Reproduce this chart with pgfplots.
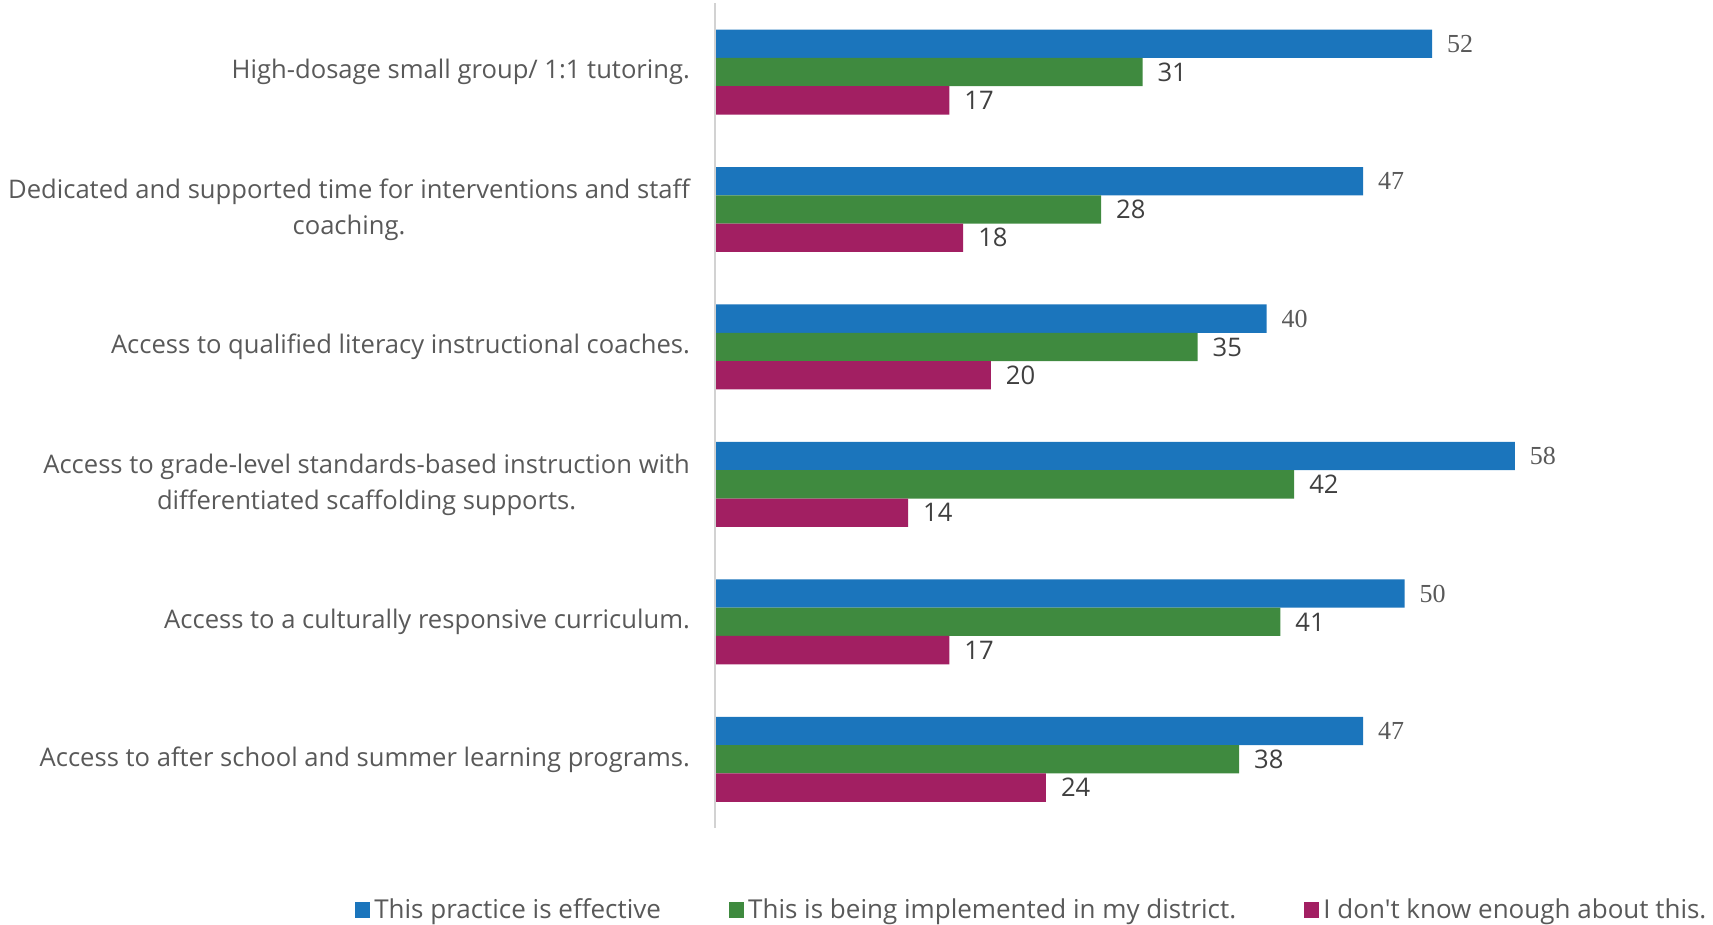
\documentclass[border=0pt]{standalone}
\usepackage{fontspec}
\setmainfont{Open Sans}[Ligatures=TeXOff]
\newfontfamily\numserif{Liberation Serif}
\usepackage{pgfplots}
\pgfplotsset{compat=1.18}

\definecolor{effblue}{HTML}{1B75BC}
\definecolor{implgreen}{HTML}{3F8A3F}
\definecolor{dkmag}{HTML}{A21F62}
\definecolor{labgray}{HTML}{595959}
\definecolor{valgray}{HTML}{404040}

\begin{document}
\begin{tikzpicture}
\path[use as bounding box] (-357.5pt,-48.5pt) rectangle (499pt,414pt);
\begin{axis}[
    xbar,
    scale only axis,
    width=441.3pt, height=412.35pt,
    xmin=0, xmax=64,
    ymin=-0.5, ymax=5.5,
    y dir=reverse,
    bar width=0.206,
    axis line style={draw=none},
    xtick=\empty,
    ytick={0,1,2,3,4,5},
    yticklabels={
        {High-dosage small group/ 1:1 tutoring.},
        {Dedicated and supported time for interventions and staff\\coaching.},
        {Access to qualified literacy instructional coaches.},
        {Access to grade-level standards-based instruction with\\differentiated scaffolding supports.},
        {Access to a culturally responsive curriculum.},
        {Access to after school and summer learning programs.}},
    major tick length=0pt,
    yticklabel style={align=center, text=labgray, font=\fontsize{12.8}{18}\selectfont, xshift=-9pt},
    /pgf/number format/assume math mode=true,
    nodes near coords,
    every node near coord/.append style={font=\fontsize{12.8}{15}\selectfont, text=valgray, xshift=4pt},
    legend columns=3,
    legend style={draw=none, at={(0.36,0)}, anchor=center, yshift=-41pt,
        font=\fontsize{13}{15}\selectfont, text=labgray,
        /tikz/every even column/.append style={column sep=32pt}},
    legend image code/.code={\fill[#1] (0pt,-3.8pt) rectangle (7.6pt,3.8pt);},
    extra description/.code={\draw[gray!35, line width=0.8pt] (rel axis cs:0,0) -- (rel axis cs:0,1);},
]
\addplot[fill=effblue, draw=none, bar shift=-0.206,
    every node near coord/.append style={font=\numserif\fontsize{13}{15}\selectfont, text=labgray}]
    coordinates {(52,0) (47,1) (40,2) (58,3) (50,4) (47,5)};
\addplot[fill=implgreen, draw=none, bar shift=0]
    coordinates {(31,0) (28,1) (35,2) (42,3) (41,4) (38,5)};
\addplot[fill=dkmag, draw=none, bar shift=0.206]
    coordinates {(17,0) (18,1) (20,2) (14,3) (17,4) (24,5)};
\legend{This practice is effective, This is being implemented in my district., I don't know enough about this.}
\end{axis}
\end{tikzpicture}
\end{document}
